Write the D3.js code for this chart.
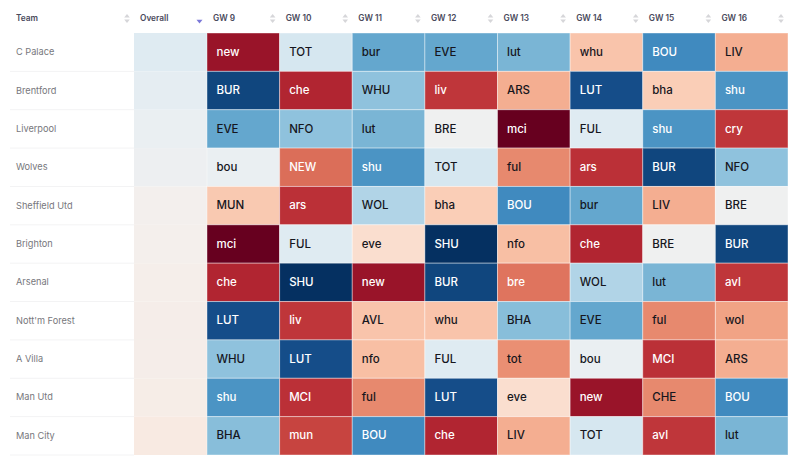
<!DOCTYPE html>
<html>
<head>
<meta charset="utf-8">
<style>
  html, body { margin: 0; padding: 0; background: #fff; overflow: hidden; }
  text { font-family: Inter, Lato, sans-serif; }
</style>
<script src="https://cdn.jsdelivr.net/npm/d3@7"></script>
</head>
<body>
<div id="root"></div>
<script>
const teams = ["C Palace", "Brentford", "Liverpool", "Wolves", "Sheffield Utd", "Brighton", "Arsenal", "Nott'm Forest", "A Villa", "Man Utd", "Man City"];
const gameweeks = ["GW 9", "GW 10", "GW 11", "GW 12", "GW 13", "GW 14", "GW 15", "GW 16"];
const overall = [0.56, 0.545, 0.53, 0.52, 0.495, 0.49, 0.485, 0.48, 0.48, 0.475, 0.46];
const fixtures = [
  ["new", "TOT", "bur", "EVE", "lut", "whu", "BOU", "LIV"],
  ["BUR", "che", "WHU", "liv", "ARS", "LUT", "bha", "shu"],
  ["EVE", "NFO", "lut", "BRE", "mci", "FUL", "shu", "cry"],
  ["bou", "NEW", "shu", "TOT", "ful", "ars", "BUR", "NFO"],
  ["MUN", "ars", "WOL", "bha", "BOU", "bur", "LIV", "BRE"],
  ["mci", "FUL", "eve", "SHU", "nfo", "che", "BRE", "BUR"],
  ["che", "SHU", "new", "BUR", "bre", "WOL", "lut", "avl"],
  ["LUT", "liv", "AVL", "whu", "BHA", "EVE", "ful", "wol"],
  ["WHU", "LUT", "nfo", "FUL", "tot", "bou", "MCI", "ARS"],
  ["shu", "MCI", "ful", "LUT", "eve", "new", "CHE", "BOU"],
  ["BHA", "mun", "BOU", "che", "LIV", "TOT", "avl", "lut"]
];
const opponents = ["mci", "new", "che", "MCI", "ars", "liv", "avl", "cry", "mun", "NEW", "bre", "ful", "CHE", "tot", "wol", "ARS", "LIV", "nfo", "whu", "AVL", "MUN", "bha", "eve", "BRE", "bou", "FUL", "TOT", "WOL", "NFO", "WHU", "BHA", "lut", "bur", "EVE", "shu", "BOU", "LUT", "BUR", "SHU"];
const ratings = [0, 0.07, 0.11, 0.13, 0.13, 0.14, 0.14, 0.14, 0.16, 0.22, 0.23, 0.26, 0.26, 0.27, 0.3, 0.32, 0.32, 0.35, 0.36, 0.36, 0.37, 0.38, 0.42, 0.51, 0.53, 0.56, 0.58, 0.65, 0.7, 0.7, 0.71, 0.73, 0.76, 0.76, 0.8, 0.82, 0.945, 0.96, 1];

const rating = d3.scaleOrdinal().domain(opponents).range(ratings);
const colour = d3.scaleSequential(d3.interpolateRdBu).domain([0, 1]);

const width = 800, height = 456;
const svg = d3.select("#root").append("svg").attr("width", width).attr("height", height).style("display", "block");

const xScale = d3.scaleBand().domain(gameweeks).range([207, 788]);
const yScale = d3.scaleBand().domain(teams).range([33, 455]);
const cw = xScale.bandwidth(), ch = yScale.bandwidth();

// row dividers go under the cells
svg.append("g").selectAll("line").data(teams).enter().append("line")
  .attr("x1", 10).attr("x2", 134)
  .attr("y1", d => yScale(d) + ch).attr("y2", d => yScale(d) + ch)
  .attr("stroke", "#f3f3f4").attr("stroke-width", 1);

svg.append("g").selectAll("text").data(teams).enter().append("text")
  .attr("x", 16).attr("y", d => yScale(d) + ch / 2 + 0.5)
  .attr("dominant-baseline", "middle")
  .attr("font-size", 9.2).attr("fill", "#77777c")
  .text(d => d);

svg.append("g").selectAll("rect").data(overall).enter().append("rect")
  .attr("x", 134).attr("width", 73)
  .attr("y", (d, i) => yScale(teams[i])).attr("height", ch)
  .attr("fill", d => colour(d));

const rows = svg.selectAll(".row").data(fixtures).enter().append("g")
  .attr("class", "row")
  .attr("transform", (d, i) => "translate(0," + yScale(teams[i]) + ")");

const cells = rows.selectAll("g").data(d => d.map((code, i) => ({ code, gw: gameweeks[i] }))).enter().append("g");

cells.append("rect")
  .attr("x", d => xScale(d.gw)).attr("y", 0)
  .attr("width", cw).attr("height", ch)
  .attr("fill", d => colour(rating(d.code)))
  .attr("stroke", "#fff").attr("stroke-opacity", 0.4).attr("stroke-width", 1);

cells.append("text")
  .attr("x", d => xScale(d.gw) + 9.5).attr("y", ch / 2 + 0.5)
  .attr("dominant-baseline", "middle")
  .attr("font-size", 11.5).attr("font-weight", 500)
  .attr("fill", d => (rating(d.code) < 0.24 || rating(d.code) > 0.78) ? "#fff" : "#16161d")
  .text(d => d.code);

// header row
const headers = ["Team", "Overall"].concat(gameweeks);
const headerX = h => h === "Team" ? 16 : h === "Overall" ? 140 : xScale(h) + 6;
const arrowX = h => h === "Team" ? 127 : h === "Overall" ? 200 : xScale(h) + cw - 7;

const head = svg.append("g").selectAll("g").data(headers).enter().append("g");

head.append("text")
  .attr("x", headerX).attr("y", 18.5)
  .attr("dominant-baseline", "middle")
  .attr("font-size", 8.3).attr("font-weight", 600).attr("fill", "#4a4a5c")
  .text(d => d);

head.append("path")
  .attr("d", d => d === "Overall" ? "" : "M" + arrowX(d) + " 14l-2.8 3.6h5.6z")
  .attr("fill", "#d6d6d9");

head.append("path")
  .attr("d", d => {
    if (d === "Overall") return "M" + (arrowX(d) - 0.5) + " 23.5l-3 -3.8h6z";
    return "M" + arrowX(d) + " 23l-2.8 -3.6h5.6z";
  })
  .attr("fill", d => d === "Overall" ? "#7b78d8" : "#d6d6d9");
</script>
</body>
</html>
